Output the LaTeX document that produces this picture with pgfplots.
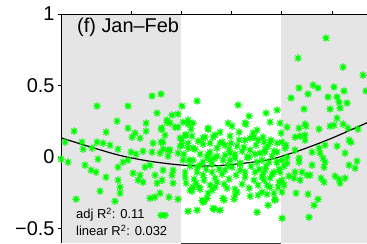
\documentclass[border=0pt]{standalone}
\usepackage{fontspec}
\setmainfont{Liberation Sans}
\usepackage{pgfplots}
\pgfplotsset{compat=1.18}
\definecolor{bggray}{RGB}{229,229,229}
\definecolor{mgreen}{RGB}{0,255,0}
\pgfdeclareplotmark{mstar}{%
  \pgfpathmoveto{\pgfqpoint{-\pgfplotmarksize}{0pt}}\pgfpathlineto{\pgfqpoint{\pgfplotmarksize}{0pt}}%
  \pgfpathmoveto{\pgfqpoint{0pt}{-\pgfplotmarksize}}\pgfpathlineto{\pgfqpoint{0pt}{\pgfplotmarksize}}%
  \pgfpathmoveto{\pgfqpoint{-0.707\pgfplotmarksize}{-0.707\pgfplotmarksize}}\pgfpathlineto{\pgfqpoint{0.707\pgfplotmarksize}{0.707\pgfplotmarksize}}%
  \pgfpathmoveto{\pgfqpoint{-0.707\pgfplotmarksize}{0.707\pgfplotmarksize}}\pgfpathlineto{\pgfqpoint{0.707\pgfplotmarksize}{-0.707\pgfplotmarksize}}%
  \pgfusepathqstroke}
\begin{document}
\begin{tikzpicture}
\useasboundingbox (-61bp,-1bp) rectangle (306bp,243bp);
\begin{axis}[
  at={(0,0)}, anchor=south west, scale only axis,
  width=306bp, height=229bp,
  xmin=61, xmax=367, ymin=-0.6, ymax=1,
  axis line style={draw=none},
  clip=false,
  xtick={131,181,231,281,332}, xticklabels={},
  xtick pos=right, ytick pos=left,
  ytick={-0.5,0,0.5,1}, yticklabels={−0.5,0,0.5,1},
  tick align=outside, major tick length=3bp,
  every tick/.style={black, line width=0.8bp},
  yticklabel style={font=\fontsize{20}{24}\selectfont},
]
\fill[bggray] (axis cs:61,-0.6) rectangle (axis cs:181,1);
\fill[bggray] (axis cs:281,-0.6) rectangle (axis cs:367,1);
\draw[line width=0.9bp, black!80] (axis cs:181,-0.6) -- (axis cs:281,-0.6);
\draw[line width=0.9bp] (axis cs:61,-0.6) -- (axis cs:61,1) -- (axis cs:367,1);
\addplot[only marks, mark=mstar, mark size=3.7bp, mgreen, mark options={line width=1.1bp}] coordinates {
(97,0.357) (128,0.357) (152,0.427) (161,0.441) (157,0.308) (182,0.357) (117,0.252) (167,0.259) (170,0.238)
(178,0.301) (74,0.182) (106,0.175) (128,0.203) (146,0.238) (146,0.182) (135,0.168) (140,0.133) (132,0.140)
(161,0.196) (165,0.154) (178,0.210) (183,0.245) (188,0.231) (182,0.119) (186,0.154) (161,0.105) (153,0.098)
(163,0.056) (65,0.105) (82,0.105) (97,0.105) (103,0.098) (110,0.084) (83,0.056) (92,0.063) (118,0.056)
(131,0.035) (136,0.021) (143,0.042) (152,0.035) (160,0.028) (168,0.049) (180,0.077) (188,0.063)
(61,-0.014) (68,-0.035) (98,-0.014) (85,-0.056) (91,-0.091) (96,-0.105) (106,-0.140) (118,-0.070) (123,-0.035)
(128,-0.021) (133,-0.112) (140,-0.126) (145,-0.070) (150,-0.056) (155,-0.126) (143,-0.175) (138,-0.161)
(118,-0.161) (120,-0.210) (120,-0.252) (100,-0.238) (157,-0.182) (160,-0.252) (150,-0.287) (155,-0.280)
(76,-0.294) (115,-0.308) (161,-0.406)
(197,0.392) (238,0.364) (266,0.308) (249,0.287) (172,0.294) (167,0.245) (175,0.210) (188,0.259) (193,0.238)
(245,0.238) (228,0.238) (232,0.217) (208,0.203) (220,0.175) (230,0.147) (239,0.175) (253,0.168) (257,0.189)
(203,0.133) (192,0.147) (213,0.140) (162,0.203) (163,0.105) (180,0.133) (182,0.084) (193,0.063) (203,0.091)
(210,0.098) (220,0.098) (237,0.077) (245,0.119) (250,0.133) (258,0.119) (263,0.140) (170,0.049) (178,0.028)
(168,0.007) (183,-0.021) (193,-0.021) (200,0.021) (208,0.021) (217,0.007) (230,0.028) (235,-0.007) (247,0)
(255,0.021) (260,0.028) (203,-0.035) (210,-0.021) (223,-0.021) (228,-0.056) (240,-0.042) (163,-0.091)
(173,-0.091) (172,-0.126) (185,-0.140) (197,-0.105) (203,-0.126) (212,-0.105) (215,-0.147) (225,-0.091)
(240,-0.091) (245,-0.140) (255,-0.105) (262,-0.140) (193,-0.210) (190,-0.231) (200,-0.224) (208,-0.252)
(215,-0.210) (227,-0.217) (237,-0.245) (235,-0.266) (250,-0.273) (258,-0.266) (223,-0.287) (202,-0.301)
(203,-0.315) (169,-0.280) (178,-0.294) (188,-0.378) (197,-0.371) (213,-0.357) (220,-0.371) (257,-0.385)
(165,-0.406) (162,-0.161) (173,-0.182)
(214,-0.364) (282,-0.427) (309,-0.420) (224,-0.301) (234,-0.294) (268,-0.336) (275,-0.301) (204,-0.308)
(207,-0.287) (192,-0.238) (191,0.196) (208,0.196) (246,0.231)
(277,0.329) (270,0.245) (280,0.238) (281,0.168) (287,0.210)
(326,0.832) (298,0.692) (343,0.629) (363,0.573) (366,0.462) (299,0.483) (291,0.413) (308,0.441) (313,0.503)
(318,0.483) (334,0.490) (344,0.462) (328,0.420) (337,0.420) (339,0.385) (347,0.378) (304,0.336) (330,0.336)
(340,0.343) (337,0.273) (299,0.203) (305,0.231) (306,0.217) (319,0.196) (330,0.217) (334,0.224) (343,0.231)
(348,0.203) (358,0.196) (295,0.140) (300,0.147) (305,0.154) (305,0.119) (349,0.119) (351,0.105) (264,0.105)
(271,0.119) (277,0.098) (265,0.035) (274,0.042) (285,0.063) (295,0.049) (312,0.035) (319,0.063) (320,0.028)
(325,0.084) (337,0.077) (345,0.028) (287,0) (299,-0.007) (299,-0.035) (312,-0.056) (323,-0.007) (325,-0.035)
(324,-0.070) (349,-0.056) (355,-0.077) (357,-0.028) (269,-0.035) (277,-0.035) (282,-0.021) (265,-0.091)
(274,-0.105) (280,-0.105) (295,-0.105) (302,-0.105) (307,-0.126) (310,-0.126) (294,-0.147) (300,-0.161)
(321,-0.147) (324,-0.175) (335,-0.133) (339,-0.154) (340,-0.182) (345,-0.147) (264,-0.161) (270,-0.147)
(282,-0.161) (270,-0.210) (278,-0.210) (274,-0.252) (282,-0.245) (296,-0.252) (308,-0.259) (267,-0.259)
(275,-0.294) (318,-0.294) (314,-0.336)
(185,0.154) (205,0.140) (215,0.154) (222,0.105) (239,0.119) (254,0.140) (270,0.105) (195,0.056) (210,0.035)
(225,0.014) (235,0.021) (249,0) (262,-0.021) (277,-0.035) (189,-0.021) (200,-0.056) (212,-0.049) (219,-0.084)
(232,-0.070) (245,-0.105) (259,-0.084) (272,-0.119) (194,-0.154) (204,-0.161) (217,-0.175) (229,-0.154)
(242,-0.189) (254,-0.161) (267,-0.196) (279,-0.175) (185,-0.105) (197,-0.070) (207,0) (230,-0.021)
(240,-0.049) (250,0.049) (265,0.056) (277,0.035) (282,0.105) (279,-0.084) (184,0.021) (225,0.084)
(235,-0.224) (212,-0.231) (199,-0.210) (262,-0.245)
(188,0.098) (198,0.112) (217,0.063) (229,0.056) (244,0.070) (256,0.084) (268,0.077) (286,0.084)
(190,-0.063) (206,-0.084) (222,-0.119) (236,-0.126) (251,-0.063) (266,-0.063) (284,-0.063) (289,-0.133)
(196,-0.182) (210,-0.196) (224,-0.189) (249,-0.217) (258,-0.196) (284,-0.196) (214,-0.007) (242,0.042)
(257,-0.035) (272,0.007) (287,-0.042) (186,-0.182) (231,0.098) (263,-0.119)
};
\addplot[black, line width=1.2bp, smooth, mark=none] coordinates {
(61,0.135) (91,0.07) (121,0.01) (151,-0.03) (181,-0.055) (211,-0.062) (241,-0.045) (271,-0.015) (301,0.05) (331,0.13) (367,0.24)
};
\node[anchor=base west, inner sep=0pt, font=\fontsize{20}{24}\selectfont] at (axis cs:77,0.874) {(f) Jan–Feb};
\node[anchor=base west, inner sep=0pt, font=\fontsize{13}{15}\selectfont] at (axis cs:76,-0.43) {adj R\textsuperscript{2}: 0.11};
\node[anchor=base west, inner sep=0pt, font=\fontsize{13}{15}\selectfont] at (axis cs:76,-0.548) {linear R\textsuperscript{2}: 0.032};
\end{axis}
\end{tikzpicture}
\end{document}
